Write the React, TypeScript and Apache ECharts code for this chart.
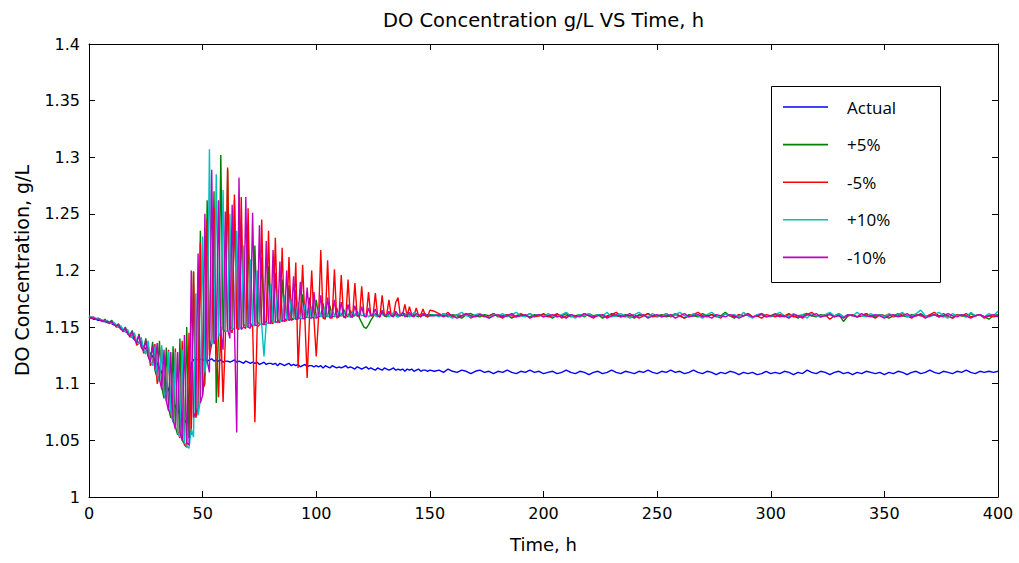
import React, { useEffect, useRef } from "react";
import * as echarts from "echarts";

// Sampling: 0..150 h every 1 h, then 152..400 h every 2 h
const EARLY_START = 0;
const EARLY_STEP = 1;
const LATE_START = 152;
const LATE_STEP = 2;

const seriesNames = ["Actual", "+5%", "-5%", "+10%", "-10%"];
const seriesColors = ["#0000FF", "#008000", "#FF0000", "#00BFBF", "#BF00BF"];

const actualEarly = [
  1.158, 1.158, 1.157, 1.157, 1.156, 1.156, 1.155, 1.155, 1.154, 1.154,
  1.153, 1.152, 1.151, 1.150, 1.149, 1.147, 1.146, 1.145, 1.143, 1.141,
  1.139, 1.138, 1.136, 1.135, 1.133, 1.131, 1.129, 1.127, 1.124, 1.121,
  1.118, 1.114, 1.110, 1.105, 1.100, 1.095, 1.090, 1.085, 1.080, 1.076,
  1.073, 1.070, 1.068, 1.065, 1.090, 1.118, 1.121, 1.122, 1.121, 1.122,
  1.121, 1.121, 1.120, 1.121, 1.122, 1.120, 1.121, 1.120, 1.121, 1.119,
  1.120, 1.120, 1.119, 1.120, 1.121, 1.119, 1.120, 1.119, 1.118, 1.120,
  1.119, 1.118, 1.119, 1.118, 1.119, 1.117, 1.118, 1.119, 1.117, 1.118,
  1.118, 1.117, 1.118, 1.116, 1.118, 1.117, 1.116, 1.117, 1.118, 1.116,
  1.117, 1.116, 1.117, 1.115, 1.116, 1.117, 1.115, 1.116, 1.116, 1.115,
  1.116, 1.115, 1.116, 1.114, 1.116, 1.115, 1.114, 1.116, 1.115, 1.114,
  1.115, 1.114, 1.115, 1.116, 1.114, 1.115, 1.114, 1.113, 1.115, 1.114,
  1.113, 1.114, 1.115, 1.113, 1.114, 1.113, 1.112, 1.114, 1.113, 1.112,
  1.114, 1.113, 1.112, 1.113, 1.114, 1.112, 1.113, 1.112, 1.113, 1.111,
  1.113, 1.112, 1.113, 1.111, 1.112, 1.113, 1.111, 1.112, 1.112, 1.111,
  1.112,
];
const actualLate = [
  1.111, 1.112, 1.110, 1.113, 1.111, 1.110, 1.112, 1.111, 1.109, 1.111, 1.112, 1.110, 1.111, 1.109, 1.111, 1.110, 1.112, 1.110, 1.109, 1.111, 1.110, 1.112, 1.110, 1.111, 1.109,
  1.110, 1.111, 1.109, 1.110, 1.112, 1.110, 1.109, 1.111, 1.110, 1.108, 1.110, 1.111, 1.109, 1.110, 1.112, 1.110, 1.109, 1.111, 1.110, 1.109, 1.111, 1.110, 1.112, 1.110, 1.109,
  1.111, 1.110, 1.112, 1.110, 1.111, 1.109, 1.110, 1.112, 1.110, 1.109, 1.111, 1.110, 1.108, 1.110, 1.109, 1.111, 1.110, 1.108, 1.110, 1.109, 1.110, 1.108, 1.109, 1.111, 1.109,
  1.110, 1.109, 1.111, 1.110, 1.108, 1.110, 1.109, 1.112, 1.110, 1.109, 1.111, 1.110, 1.108, 1.110, 1.111, 1.109, 1.110, 1.108, 1.110, 1.109, 1.111, 1.110, 1.109, 1.110, 1.108,
  1.110, 1.109, 1.111, 1.110, 1.108, 1.110, 1.111, 1.109, 1.110, 1.112, 1.110, 1.109, 1.111, 1.110, 1.109, 1.111, 1.110, 1.112, 1.110, 1.109, 1.111, 1.110, 1.111, 1.110, 1.111,
];

const plus5Early = [
  1.158, 1.159, 1.158, 1.157, 1.158, 1.156, 1.155, 1.157, 1.154, 1.154,
  1.156, 1.153, 1.151, 1.153, 1.149, 1.147, 1.150, 1.145, 1.143, 1.147,
  1.140, 1.137, 1.144, 1.133, 1.130, 1.140, 1.125, 1.120, 1.137, 1.112,
  1.105, 1.138, 1.097, 1.087, 1.132, 1.078, 1.070, 1.133, 1.062, 1.055,
  1.140, 1.050, 1.047, 1.150, 1.052, 1.060, 1.199, 1.072, 1.080, 1.235,
  1.090, 1.110, 1.262, 1.130, 1.140, 1.270, 1.083, 1.145, 1.302, 1.148,
  1.146, 1.289, 1.148, 1.150, 1.262, 1.151, 1.150, 1.245, 1.152, 1.151,
  1.232, 1.153, 1.152, 1.222, 1.154, 1.153, 1.212, 1.155, 1.154, 1.204,
  1.155, 1.156, 1.198, 1.156, 1.156, 1.192, 1.157, 1.157, 1.187, 1.158,
  1.157, 1.183, 1.158, 1.158, 1.179, 1.158, 1.159, 1.176, 1.159, 1.158,
  1.174, 1.159, 1.160, 1.171, 1.159, 1.160, 1.169, 1.160, 1.159, 1.167,
  1.160, 1.160, 1.166, 1.161, 1.159, 1.165, 1.160, 1.160, 1.164, 1.158,
  1.154, 1.150, 1.149, 1.152, 1.156, 1.159, 1.162, 1.160, 1.161, 1.163,
  1.160, 1.159, 1.162, 1.161, 1.160, 1.162, 1.159, 1.161, 1.160, 1.162,
  1.159, 1.161, 1.160, 1.162, 1.160, 1.159, 1.161, 1.160, 1.162, 1.159,
  1.161,
];
const plus5Late = [
  1.161, 1.160, 1.162, 1.159, 1.161, 1.160, 1.158, 1.161, 1.162, 1.160, 1.159, 1.161, 1.160, 1.162, 1.159, 1.160, 1.161, 1.158, 1.160, 1.162, 1.160, 1.159, 1.161, 1.160, 1.162,
  1.160, 1.158, 1.161, 1.160, 1.162, 1.159, 1.160, 1.161, 1.159, 1.162, 1.160, 1.161, 1.158, 1.160, 1.162, 1.160, 1.159, 1.161, 1.160, 1.158, 1.161, 1.160, 1.162, 1.159, 1.160,
  1.161, 1.159, 1.160, 1.162, 1.160, 1.158, 1.161, 1.160, 1.159, 1.162, 1.160, 1.161, 1.159, 1.160, 1.163, 1.160, 1.158, 1.161, 1.160, 1.162, 1.159, 1.160, 1.161, 1.159, 1.160,
  1.162, 1.160, 1.159, 1.161, 1.160, 1.158, 1.161, 1.162, 1.160, 1.159, 1.161, 1.160, 1.162, 1.159, 1.161, 1.155, 1.160, 1.161, 1.159, 1.160, 1.162, 1.160, 1.159, 1.161, 1.160,
  1.158, 1.160, 1.162, 1.160, 1.159, 1.161, 1.160, 1.162, 1.159, 1.160, 1.161, 1.159, 1.162, 1.160, 1.158, 1.161, 1.160, 1.159, 1.162, 1.160, 1.161, 1.159, 1.157, 1.160, 1.161,
];

const minus5Early = [
  1.158, 1.158, 1.159, 1.157, 1.157, 1.157, 1.155, 1.156, 1.155, 1.153,
  1.154, 1.153, 1.150, 1.151, 1.150, 1.146, 1.147, 1.146, 1.141, 1.143,
  1.142, 1.134, 1.136, 1.139, 1.127, 1.128, 1.136, 1.116, 1.119, 1.135,
  1.100, 1.108, 1.131, 1.088, 1.090, 1.130, 1.073, 1.067, 1.131, 1.058,
  1.052, 1.138, 1.046, 1.044, 1.145, 1.055, 1.199, 1.070, 1.078, 1.225,
  1.095, 1.100, 1.245, 1.125, 1.135, 1.255, 1.140, 1.088, 1.150, 1.084,
  1.140, 1.291, 1.148, 1.145, 1.267, 1.149, 1.148, 1.265, 1.150, 1.149,
  1.255, 1.150, 1.152, 1.066, 1.150, 1.152, 1.245, 1.153, 1.152, 1.235,
  1.154, 1.153, 1.229, 1.155, 1.154, 1.220, 1.155, 1.156, 1.212, 1.156,
  1.157, 1.207, 1.114, 1.156, 1.205, 1.157, 1.105, 1.156, 1.200, 1.157,
  1.124, 1.158, 1.218, 1.158, 1.157, 1.209, 1.158, 1.158, 1.201, 1.158,
  1.159, 1.196, 1.159, 1.158, 1.192, 1.159, 1.159, 1.189, 1.160, 1.159,
  1.186, 1.160, 1.159, 1.181, 1.160, 1.160, 1.180, 1.160, 1.159, 1.178,
  1.160, 1.161, 1.174, 1.160, 1.160, 1.172, 1.176, 1.160, 1.161, 1.170,
  1.160, 1.168, 1.161, 1.160, 1.167, 1.160, 1.161, 1.166, 1.160, 1.159,
  1.165,
];
const minus5Late = [
  1.164, 1.162, 1.160, 1.163, 1.159, 1.161, 1.160, 1.162, 1.158, 1.160, 1.161, 1.159, 1.160, 1.162, 1.160, 1.158, 1.161, 1.160, 1.159, 1.161, 1.160, 1.162, 1.159, 1.160, 1.161,
  1.159, 1.160, 1.162, 1.158, 1.160, 1.161, 1.159, 1.160, 1.162, 1.160, 1.158, 1.161, 1.160, 1.159, 1.161, 1.163, 1.160, 1.159, 1.160, 1.161, 1.158, 1.160, 1.162, 1.160, 1.159,
  1.160, 1.162, 1.159, 1.161, 1.160, 1.158, 1.160, 1.161, 1.163, 1.160, 1.159, 1.161, 1.160, 1.158, 1.162, 1.160, 1.159, 1.161, 1.160, 1.162, 1.159, 1.160, 1.158, 1.161, 1.160,
  1.159, 1.161, 1.160, 1.162, 1.159, 1.160, 1.158, 1.161, 1.163, 1.160, 1.159, 1.161, 1.157, 1.160, 1.162, 1.159, 1.160, 1.161, 1.159, 1.160, 1.162, 1.160, 1.158, 1.161, 1.160,
  1.161, 1.159, 1.160, 1.162, 1.160, 1.158, 1.161, 1.160, 1.159, 1.161, 1.163, 1.160, 1.159, 1.160, 1.158, 1.161, 1.160, 1.162, 1.159, 1.160, 1.161, 1.158, 1.160, 1.159, 1.160,
];

const plus10Early = [
  1.160, 1.159, 1.158, 1.158, 1.157, 1.157, 1.156, 1.155, 1.156, 1.154,
  1.153, 1.154, 1.152, 1.150, 1.151, 1.148, 1.146, 1.148, 1.143, 1.141,
  1.145, 1.137, 1.135, 1.141, 1.130, 1.126, 1.138, 1.120, 1.116, 1.133,
  1.108, 1.102, 1.134, 1.092, 1.085, 1.129, 1.075, 1.066, 1.128, 1.057,
  1.053, 1.130, 1.048, 1.045, 1.043, 1.060, 1.053, 1.180, 1.072, 1.085,
  1.230, 1.110, 1.125, 1.307, 1.135, 1.140, 1.285, 1.142, 1.145, 1.271,
  1.146, 1.147, 1.250, 1.149, 1.148, 1.235, 1.150, 1.149, 1.222, 1.151,
  1.150, 1.210, 1.152, 1.151, 1.200, 1.153, 1.152, 1.124, 1.154, 1.153,
  1.188, 1.155, 1.154, 1.183, 1.156, 1.155, 1.178, 1.157, 1.156, 1.175,
  1.158, 1.157, 1.172, 1.158, 1.157, 1.170, 1.159, 1.158, 1.168, 1.159,
  1.158, 1.167, 1.159, 1.160, 1.166, 1.159, 1.160, 1.165, 1.160, 1.159,
  1.164, 1.160, 1.161, 1.164, 1.160, 1.159, 1.163, 1.161, 1.160, 1.163,
  1.160, 1.161, 1.162, 1.159, 1.161, 1.162, 1.160, 1.159, 1.162, 1.161,
  1.160, 1.162, 1.159, 1.161, 1.163, 1.160, 1.159, 1.162, 1.161, 1.160,
  1.162, 1.159, 1.161, 1.163, 1.160, 1.161, 1.159, 1.162, 1.160, 1.161,
  1.160,
];
const plus10Late = [
  1.161, 1.159, 1.162, 1.160, 1.158, 1.161, 1.163, 1.160, 1.159, 1.161, 1.162, 1.160, 1.158, 1.161, 1.160, 1.162, 1.159, 1.161, 1.163, 1.160, 1.159, 1.162, 1.160, 1.161, 1.159,
  1.162, 1.160, 1.159, 1.161, 1.163, 1.160, 1.158, 1.161, 1.160, 1.162, 1.159, 1.161, 1.160, 1.163, 1.159, 1.160, 1.162, 1.160, 1.158, 1.161, 1.163, 1.160, 1.159, 1.162, 1.160,
  1.159, 1.162, 1.160, 1.161, 1.163, 1.160, 1.159, 1.162, 1.160, 1.158, 1.161, 1.163, 1.160, 1.159, 1.162, 1.160, 1.161, 1.159, 1.163, 1.160, 1.158, 1.161, 1.162, 1.160, 1.159,
  1.161, 1.163, 1.160, 1.159, 1.162, 1.160, 1.161, 1.158, 1.162, 1.160, 1.159, 1.161, 1.163, 1.160, 1.162, 1.159, 1.161, 1.160, 1.163, 1.160, 1.159, 1.162, 1.160, 1.161, 1.159,
  1.162, 1.160, 1.161, 1.163, 1.159, 1.160, 1.162, 1.165, 1.160, 1.159, 1.161, 1.163, 1.160, 1.158, 1.162, 1.160, 1.161, 1.159, 1.163, 1.160, 1.161, 1.159, 1.162, 1.160, 1.164,
];

const minus10Early = [
  1.159, 1.158, 1.158, 1.157, 1.157, 1.156, 1.156, 1.155, 1.155, 1.154,
  1.155, 1.152, 1.151, 1.152, 1.148, 1.147, 1.149, 1.144, 1.142, 1.146,
  1.139, 1.136, 1.143, 1.132, 1.129, 1.138, 1.124, 1.119, 1.134, 1.113,
  1.136, 1.104, 1.095, 1.130, 1.085, 1.076, 1.128, 1.068, 1.060, 1.128,
  1.058, 1.050, 1.143, 1.048, 1.046, 1.200, 1.070, 1.075, 1.215, 1.083,
  1.090, 1.250, 1.120, 1.110, 1.289, 1.135, 1.140, 1.262, 1.145, 1.130,
  1.252, 1.148, 1.140, 1.258, 1.150, 1.057, 1.282, 1.148, 1.150, 1.265,
  1.150, 1.149, 1.251, 1.152, 1.151, 1.240, 1.153, 1.152, 1.226, 1.154,
  1.153, 1.218, 1.155, 1.154, 1.208, 1.155, 1.156, 1.200, 1.156, 1.157,
  1.195, 1.157, 1.157, 1.190, 1.158, 1.157, 1.185, 1.158, 1.158, 1.181,
  1.158, 1.159, 1.178, 1.159, 1.158, 1.176, 1.159, 1.159, 1.174, 1.159,
  1.160, 1.172, 1.159, 1.160, 1.170, 1.160, 1.159, 1.169, 1.160, 1.160,
  1.168, 1.160, 1.159, 1.167, 1.160, 1.161, 1.166, 1.160, 1.159, 1.165,
  1.160, 1.161, 1.164, 1.160, 1.159, 1.164, 1.161, 1.160, 1.163, 1.159,
  1.161, 1.163, 1.160, 1.159, 1.162, 1.161, 1.159, 1.162, 1.160, 1.161,
  1.160,
];
const minus10Late = [
  1.160, 1.161, 1.159, 1.161, 1.160, 1.158, 1.160, 1.162, 1.160, 1.159, 1.161, 1.160, 1.158, 1.160, 1.161, 1.159, 1.160, 1.162, 1.159, 1.160, 1.161, 1.158, 1.160, 1.161, 1.159,
  1.160, 1.161, 1.159, 1.160, 1.158, 1.161, 1.160, 1.159, 1.162, 1.160, 1.159, 1.160, 1.161, 1.158, 1.160, 1.161, 1.159, 1.160, 1.162, 1.159, 1.160, 1.161, 1.158, 1.160, 1.161,
  1.159, 1.160, 1.161, 1.158, 1.160, 1.162, 1.159, 1.160, 1.161, 1.159, 1.160, 1.158, 1.161, 1.160, 1.159, 1.161, 1.160, 1.158, 1.160, 1.161, 1.159, 1.160, 1.162, 1.159, 1.160,
  1.161, 1.159, 1.160, 1.158, 1.161, 1.160, 1.159, 1.161, 1.160, 1.162, 1.159, 1.160, 1.161, 1.159, 1.160, 1.158, 1.161, 1.160, 1.159, 1.162, 1.160, 1.159, 1.161, 1.160, 1.158,
  1.160, 1.161, 1.159, 1.160, 1.162, 1.159, 1.160, 1.161, 1.158, 1.160, 1.161, 1.159, 1.160, 1.162, 1.160, 1.159, 1.161, 1.160, 1.158, 1.160, 1.161, 1.159, 1.160, 1.161, 1.159,
];

const seriesEarly = [actualEarly, plus5Early, minus5Early, plus10Early, minus10Early];
const seriesLate = [actualLate, plus5Late, minus5Late, plus10Late, minus10Late];

function toPairs(early: number[], late: number[]) {
  const out: [number, number][] = [];
  early.forEach((v, i) => out.push([EARLY_START + i * EARLY_STEP, v]));
  late.forEach((v, i) => out.push([LATE_START + i * LATE_STEP, v]));
  return out;
}

const FONT = "DejaVu Sans";

export default function App() {
  const ref = useRef<HTMLDivElement>(null);
  useEffect(() => {
    if (!ref.current) return;
    const chart = echarts.init(ref.current, null, { renderer: "svg" });
    const axisCommon = {
      type: "value" as const,
      axisLine: { show: true, onZero: false, lineStyle: { color: "#000", width: 1 } },
      axisTick: { show: true, inside: true, length: 6, lineStyle: { color: "#000", width: 1 } },
      splitLine: { show: false },
    };
    chart.setOption({
      animation: false,
      backgroundColor: "#fff",
      title: {
        text: "DO Concentration g/L VS Time, h",
        left: 543.5,
        top: 10,
        textAlign: "center",
        padding: 0,
        textStyle: { fontFamily: FONT, fontSize: 19.5, fontWeight: "normal", color: "#000" },
      },
      grid: { left: 89, right: 21, top: 44, bottom: 66, containLabel: false, outerBoundsMode: "none" },
      legend: {
        orient: "vertical",
        left: 783,
        top: 98.5,
        padding: 0,
        icon: "rect",
        itemWidth: 45,
        itemHeight: 1.6,
        itemGap: 20.6,
        selectedMode: false,
        data: seriesNames,
        textStyle: { fontFamily: "Open Sans", fontSize: 17, color: "#000", padding: [0, 0, 0, 14] },
      },
      graphic: [
        {
          type: "rect",
          shape: { x: 771.5, y: 86.5, width: 169, height: 196 },
          style: { fill: "none", stroke: "#000", lineWidth: 1 },
          z: 100,
        },
      ],
      xAxis: [
        {
          ...axisCommon,
          min: 0,
          max: 400,
          interval: 50,
          position: "bottom",
          name: "Time, h",
          nameLocation: "middle",
          nameGap: 38,
          nameTextStyle: { fontFamily: FONT, fontSize: 18, color: "#000" },
          axisLabel: { fontFamily: FONT, fontSize: 16, color: "#000", margin: 8 },
        },
        {
          ...axisCommon,
          min: 0,
          max: 400,
          interval: 50,
          position: "top",
          axisLabel: { show: false },
        },
      ],
      yAxis: [
        {
          ...axisCommon,
          min: 1,
          max: 1.4,
          interval: 0.05,
          position: "left",
          name: "DO Concentration, g/L",
          nameLocation: "middle",
          nameGap: 58,
          nameRotate: 90,
          nameTextStyle: { fontFamily: FONT, fontSize: 19, color: "#000" },
          axisLabel: { fontFamily: FONT, fontSize: 16, color: "#000", margin: 9 },
        },
        {
          ...axisCommon,
          min: 1,
          max: 1.4,
          interval: 0.05,
          position: "right",
          axisLabel: { show: false },
        },
      ],
      series: seriesNames.map((name, i) => ({
        name,
        type: "line",
        xAxisIndex: 0,
        yAxisIndex: 0,
        data: toPairs(seriesEarly[i], seriesLate[i]),
        showSymbol: false,
        symbol: "none",
        color: seriesColors[i],
        itemStyle: { color: seriesColors[i] },
        lineStyle: { color: seriesColors[i], width: 1.4 },
        emphasis: { disabled: true },
      })),
    });
    return () => chart.dispose();
  }, []);
  return (
    <div
      ref={ref}
      style={{ position: "absolute", left: 0, top: 0, width: 1019, height: 563, background: "#fff" }}
    />
  );
}
